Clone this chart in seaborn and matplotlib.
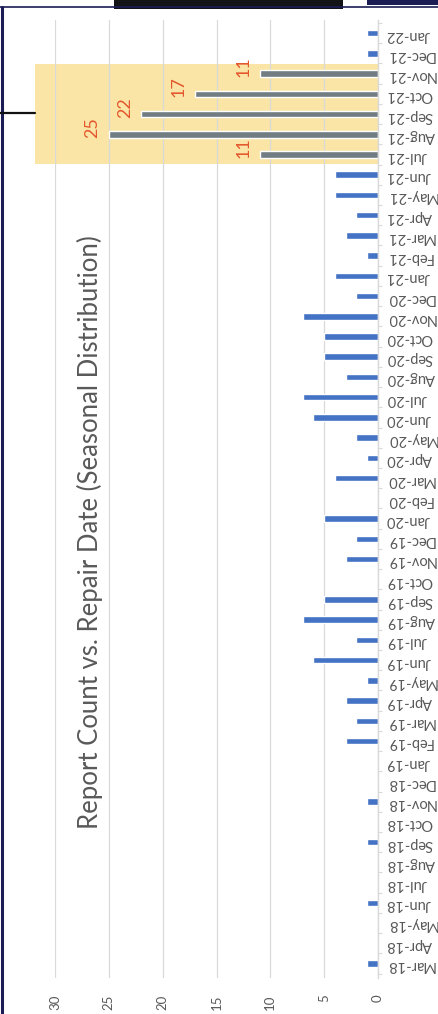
import numpy as np
import pandas as pd
import matplotlib
matplotlib.use('Agg')
from matplotlib import pyplot as plt
from matplotlib.patches import Rectangle
from matplotlib.lines import Line2D
from matplotlib.ticker import FixedLocator
import seaborn as sns

# Months (repair date) and the report count for each one
months = ['Mar-18', 'Apr-18', 'May-18', 'Jun-18', 'Jul-18', 'Aug-18', 'Sep-18', 'Oct-18', 'Nov-18', 'Dec-18',
          'Jan-19', 'Feb-19', 'Mar-19', 'Apr-19', 'May-19', 'Jun-19', 'Jul-19', 'Aug-19', 'Sep-19', 'Oct-19', 'Nov-19', 'Dec-19',
          'Jan-20', 'Feb-20', 'Mar-20', 'Apr-20', 'May-20', 'Jun-20', 'Jul-20', 'Aug-20', 'Sep-20', 'Oct-20', 'Nov-20', 'Dec-20',
          'Jan-21', 'Feb-21', 'Mar-21', 'Apr-21', 'May-21', 'Jun-21', 'Jul-21', 'Aug-21', 'Sep-21', 'Oct-21', 'Nov-21', 'Dec-21',
          'Jan-22']
report_counts = [1, 0, 0, 1, 0, 0, 1, 0, 1, 0,
                 0, 3, 2, 3, 1, 6, 2, 7, 5, 0, 3, 2,
                 5, 0, 4, 1, 2, 6, 7, 3, 5, 5, 7, 2,
                 4, 1, 3, 2, 4, 4, 11, 25, 22, 17, 11, 1,
                 1]
# Season that is highlighted (and labelled) in the chart
highlight_months = ['Jul-21', 'Aug-21', 'Sep-21', 'Oct-21', 'Nov-21']
count_ticks = [0, 5, 10, 15, 20, 25, 30]

title = 'Report Count vs. Repair Date (Seasonal Distribution)'

sns.set_style('white')
plt.rcParams['font.family'] = ['Lato', 'DejaVu Sans']

W, H = 438, 1014
fig = plt.figure(figsize=(W / 100, H / 100), dpi=100)
fig.patch.set_facecolor('white')

# Axes placed so that the (rotated) chart sits like the reference
ax = fig.add_axes([55 / W, 1 - 978 / H, (378 - 55) / W, (978 - 20) / H])

df = pd.DataFrame({
    'month': months,
    'count': report_counts,
    'group': ['highlight' if m in highlight_months else 'normal' for m in months],
})

sns.barplot(data=df, y='month', x='count', hue='group', order=months, orient='h',
            palette={'normal': '#4472C4', 'highlight': '#717D82'},
            width=0.32, dodge=False, saturation=1, legend=False, ax=ax, zorder=2)

# Value axis runs right to left, months bottom to top
ax.set_xlim(30, 0)
ax.set_ylim(-0.72, len(months) - 0.35)

ax.set_xticks(count_ticks)
ax.set_xticklabels([str(t) for t in count_ticks])
ax.tick_params(axis='x', length=0, pad=12, labelsize=9.5, labelcolor='#595959', labelrotation=90)

ax.yaxis.tick_right()
ax.set_yticks(range(len(months)))
ax.set_yticklabels(months)
ax.tick_params(axis='y', which='major', length=0, pad=6, labelsize=10.5,
               labelcolor='#595959', labelrotation=180, labelright=True, labelleft=False)
ax.yaxis.set_minor_locator(FixedLocator(np.arange(-0.5, len(months), 1.0)))
ax.tick_params(axis='y', which='minor', length=3, width=0.8, color='#D9D9D9', right=True, left=False)

ax.set_xlabel('')
ax.set_ylabel('')

ax.set_axisbelow(True)
ax.grid(axis='x', color='#D9D9D9', linewidth=0.9)
ax.grid(axis='y', visible=False)
for side in ['top', 'bottom', 'left']:
    ax.spines[side].set_visible(False)
ax.spines['right'].set_color('#D9D9D9')
ax.spines['right'].set_linewidth(1)

# Highlight box around the season
first = months.index(highlight_months[0])
last = months.index(highlight_months[-1])
box = Rectangle((0, first - 0.45), 31.9, last - first + 0.9, facecolor='#FAE5A6',
                edgecolor='none', zorder=0.3, clip_on=False)
ax.add_patch(box)

# Data labels for highlighted bars
for m in highlight_months:
    i = months.index(m)
    v = report_counts[i]
    ax.annotate(str(v), xy=(v, i), xytext=(-6, -2.5), textcoords='offset points',
                rotation=90, ha='right', va='bottom', fontsize=13, color='#E4572E', zorder=3)

# Title (reads bottom to top)
fig.text(90 / W, 1 - 532 / H, title, rotation=90, ha='center', va='center',
         fontsize=18.5, color='#595959', fontweight='normal')

# Screenshot frame bits
navy = '#1C1C55'
fig.add_artist(Line2D([1.5 / W, 1.5 / W], [0, 1 - 7 / H], color=navy, linewidth=2.2))
fig.add_artist(Line2D([0, 1], [1 - 7 / H, 1 - 7 / H], color=navy, linewidth=1.2))
fig.add_artist(Rectangle((114 / W, 1 - 9 / H), (343 - 114) / W, 9 / H, transform=fig.transFigure,
                         facecolor='#141414', edgecolor='none'))
fig.add_artist(Rectangle((343 / W, 1 - 7 / H), (367 - 343) / W, 7 / H, transform=fig.transFigure,
                         facecolor='white', edgecolor='none'))
fig.add_artist(Rectangle((367 / W, 1 - 5 / H), (W - 367) / W, 5 / H, transform=fig.transFigure,
                         facecolor=navy, edgecolor='none'))
# Callout connector to the highlight box
fig.add_artist(Line2D([0, 35 / W], [1 - 113 / H, 1 - 113 / H], color='#111111', linewidth=1.6))

fig.savefig('out.png', dpi=100)
